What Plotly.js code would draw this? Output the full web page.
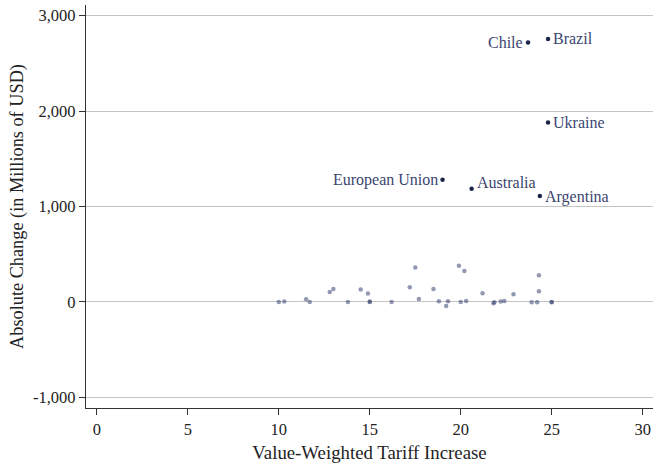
<!DOCTYPE html>
<html>
<head>
<meta charset="utf-8">
<script src="https://cdn.plot.ly/plotly-3.0.1.min.js"></script>
<style>
  html, body { margin: 0; padding: 0; background: #fff; }
  #chart { width: 653px; height: 463px; }
</style>
</head>
<body>
<div id="chart"></div>
<script>
// unlabelled countries (tariff increase, absolute change in M USD)
const smallX = [10.0, 10.3, 11.5, 11.7, 12.8, 13.0, 13.8, 14.5, 14.9, 15.0, 15.0, 16.2,
                17.2, 17.5, 17.7, 18.5, 18.8, 19.2, 19.3, 19.9, 20.0, 20.2, 20.3, 21.2,
                21.8, 21.85, 22.2, 22.4, 22.9, 23.9, 24.2, 24.3, 24.3, 25.0, 25.0];
const smallY = [0, 5, 28, 0, 105, 136, 0, 129, 87, 0, 5, 0,
                154, 360, 31, 136, 7, -42, 7, 378, 0, 325, 10, 91,
                -14, -3, 3, 10, 81, -3, -3, 112, 280, 0, -3];

// labelled countries
const bigNames = ['Chile', 'Brazil', 'Ukraine', 'European Union', 'Australia', 'Argentina'];
const bigX = [23.7, 24.8, 24.8, 19.0, 20.6, 24.35];
const bigY = [2720, 2755, 1880, 1280, 1185, 1110];
const bigSide = ['left', 'right', 'right', 'left', 'right', 'right'];
const bigLift = [0, 1, 0, 0, 6, -1];

const yTickVals = [-1000, 0, 1000, 2000, 3000];
const yTickText = ['-1,000', '0', '1,000', '2,000', '3,000'];
const xTickVals = [0, 5, 10, 15, 20, 25, 30];

const serif = 'Liberation Serif';

const traces = [
    {
        x: smallX, y: smallY, type: 'scatter', mode: 'markers',
        marker: { size: 4.5, color: 'rgba(49,59,110,0.52)', line: { width: 0 } },
        hoverinfo: 'x+y', showlegend: false
    },
    {
        x: bigX, y: bigY, type: 'scatter', mode: 'markers', text: bigNames,
        marker: { size: 4.5, color: '#1c2548', line: { width: 0 } },
        hoverinfo: 'text+x+y', showlegend: false
    }
];

const annotations = bigNames.map((n, i) => ({
    x: bigX[i], y: bigY[i], xref: 'x', yref: 'y', text: n, showarrow: false,
    xanchor: bigSide[i] === 'left' ? 'right' : 'left',
    xshift: bigSide[i] === 'left' ? -3 : 3,
    yshift: bigLift[i],
    font: { family: serif, size: 16, color: '#3b4570' }
}));

const layout = {
    width: 653, height: 463,
    margin: { l: 86, r: 0, t: 5, b: 55 },
    paper_bgcolor: '#fff', plot_bgcolor: '#fff',
    font: { family: serif, size: 16, color: '#222' },
    xaxis: {
        range: [-0.6, 30.57], tickvals: xTickVals,
        showgrid: false, zeroline: false,
        showline: true, linecolor: '#333', linewidth: 1.3,
        ticks: 'outside', ticklen: 6, tickcolor: '#333', tickwidth: 1.3,
        tickfont: { family: serif, size: 16.5, color: '#222' },
        title: { text: 'Value-Weighted Tariff Increase', standoff: 10,
                 font: { family: serif, size: 18.8, color: '#222' } }
    },
    yaxis: {
        range: [-1112, 3112], tickvals: yTickVals, ticktext: yTickText,
        showgrid: true, gridcolor: '#c4c4c4', gridwidth: 1, zeroline: false,
        showline: true, linecolor: '#333', linewidth: 1.3,
        ticks: 'outside', ticklen: 6, tickcolor: '#333', tickwidth: 1.3,
        tickfont: { family: serif, size: 16.5, color: '#222' },
        title: { text: 'Absolute Change (in Millions of USD)', standoff: 4,
                 font: { family: serif, size: 18.3, color: '#222' } }
    },
    annotations: annotations
};

Plotly.newPlot('chart', traces, layout, { displayModeBar: false, responsive: false });
</script>
</body>
</html>
